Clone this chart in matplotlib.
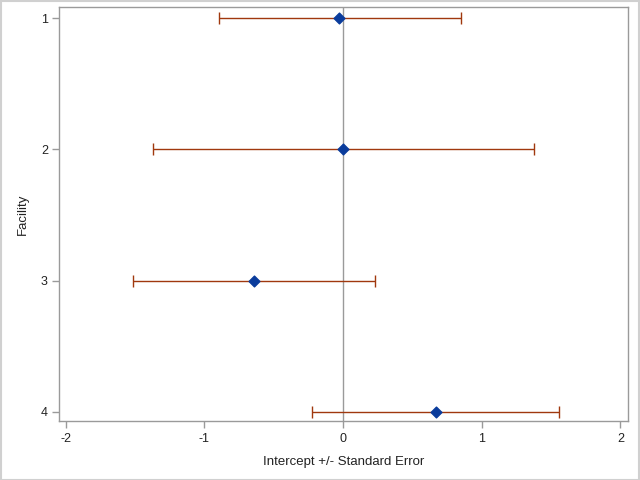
import matplotlib
matplotlib.use("Agg")
import matplotlib.pyplot as plt
from matplotlib.patches import Rectangle

plt.rcParams['font.family'] = ['Liberation Sans', 'DejaVu Sans']

# -----------------------------
# Данные
# -----------------------------
facility = [1, 2, 3, 4]
intercept = [-0.03, 0.00, -0.64, 0.67]
lower = [-0.89, -1.37, -1.51, -0.22]
upper = [0.85, 1.38, 0.23, 1.56]

bar_color = '#A0380E'
marker_color = '#0A3C9C'
axis_color = '#9A9A9A'

fig = plt.figure(figsize=(6.4, 4.8), dpi=100)
ax = fig.add_axes([0.0922, 0.1229, 0.8888, 0.8625])

# reference line
ax.axvline(0, color=axis_color, linewidth=1, zorder=1)

xerr = [[i - lo for i, lo in zip(intercept, lower)],
        [up - i for i, up in zip(intercept, upper)]]
ax.errorbar(intercept, facility, xerr=xerr, fmt='none', ecolor=bar_color,
            elinewidth=1, capsize=4.5, capthick=1, zorder=2)
ax.scatter(intercept, facility, marker='D', s=30, color=marker_color, zorder=3)

ax.set_xlim(-2.047, 2.054)
ax.set_ylim(4.069, 0.916)
ax.set_xticks([-2, -1, 0, 1, 2])
ax.set_yticks(facility)
ax.set_xticklabels(['-2', '-1', '0', '1', '2'])

ax.set_xlabel('Intercept +/- Standard Error', fontsize=9.5, color='#222222', labelpad=8)
ax.set_ylabel('Facility', fontsize=9.5, color='#222222', labelpad=9)

for s in ax.spines.values():
    s.set_color(axis_color)
    s.set_linewidth(1)
ax.tick_params(colors='#222222', labelsize=9, length=5, width=1)
ax.tick_params(axis='both', color=axis_color)
ax.tick_params(axis='y', pad=3)

# светло-серая рамка вокруг рисунка
fig.patches.append(Rectangle((0.001, 0.001), 0.997, 0.997, transform=fig.transFigure,
                             fill=False, edgecolor='#D0D0D0', linewidth=1.5))

plt.savefig('out.png', dpi=100)
